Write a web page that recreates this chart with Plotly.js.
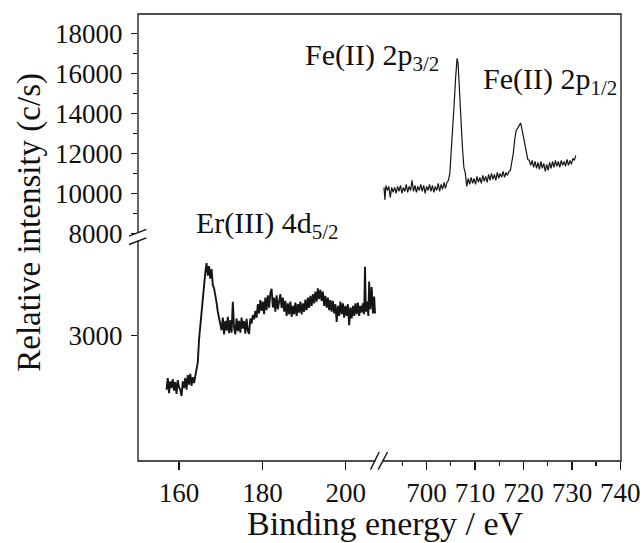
<!DOCTYPE html>
<html><head><meta charset="utf-8">
<script src="https://cdn.plot.ly/plotly-3.0.1.min.js"></script>
<style>html,body{margin:0;padding:0;background:#fff}#chart{width:643px;height:543px}</style>
</head><body><div id="chart"></div>
<script>
// Er(III) 4d region (binding energy eV, intensity c/s)
const erEnergy = [157.0,157.3,157.6,157.9,158.2,158.5,158.8,159.1,159.4,159.7,160.0,160.3,160.6,160.9,161.2,161.5,161.8,162.1,162.4,162.7,163.0,163.3,163.6,163.9,164.2,164.5,164.8,165.1,165.4,165.7,166.0,166.3,166.6,166.9,167.2,167.5,167.8,168.1,168.4,168.7,169.0,169.3,169.6,169.9,170.2,170.5,170.8,171.1,171.4,171.7,172.0,172.3,172.6,172.9,173.2,173.5,173.8,174.1,174.4,174.7,175.0,175.3,175.6,175.9,176.2,176.5,176.8,177.1,177.4,177.7,178.0,178.3,178.6,178.9,179.2,179.5,179.8,180.1,180.4,180.7,181.0,181.3,181.6,181.9,182.2,182.5,182.8,183.1,183.4,183.7,184.0,184.3,184.6,184.9,185.2,185.5,185.8,186.1,186.4,186.7,187.0,187.3,187.6,187.9,188.2,188.5,188.8,189.1,189.4,189.7,190.0,190.3,190.6,190.9,191.2,191.5,191.8,192.1,192.4,192.7,193.0,193.3,193.6,193.9,194.2,194.5,194.8,195.1,195.4,195.7,196.0,196.3,196.6,196.9,197.2,197.5,197.8,198.1,198.4,198.7,199.0,199.3,199.6,199.9,200.2,200.5,200.8,201.1,201.4,201.7,202.0,202.3,202.6,202.9,203.2,203.5,203.8,204.1,204.4,204.6,204.8,205.1,205.4,205.6,205.9,206.2,206.5,206.8,207.0];
const erIntensity = [1700,1980,1620,1900,1740,1950,1680,1880,1600,1930,1760,1700,1550,1900,1740,1980,1700,2050,1820,2080,1790,2000,1860,2020,2150,2350,2900,3250,3600,4000,4350,4500,4720,4420,4650,4350,4580,4200,4120,3880,3780,3560,3420,3260,3120,3420,3020,3340,3110,3440,3050,3360,3060,3800,3180,3020,3400,3100,3340,3060,3420,3160,3340,3040,3390,3110,3030,3400,3280,3480,3380,3580,3420,3740,3520,3840,3580,3800,3500,3900,3600,3950,3660,4000,4110,3660,3900,3560,3950,3620,3850,3980,3650,3900,3560,3820,3460,3760,3500,3800,3440,3700,3500,3780,3460,3740,3540,3800,3500,3760,3560,3850,3600,3900,3650,3940,3700,3980,3760,4040,3800,4120,3860,4080,3820,4040,3700,3940,3660,3900,3600,3840,3560,3820,3520,3740,3320,3700,3460,3800,3500,3760,3420,3700,3460,3740,3240,3660,3400,3700,3460,3760,3500,3780,3460,3700,3540,3760,3500,4630,3560,3800,3460,4280,3620,4150,3520,3920,3520];

// Fe(II) 2p region
const feEnergy = [691.2,691.4,691.6,691.9,692.2,692.5,692.8,693.1,693.4,693.7,694.0,694.3,694.6,694.9,695.2,695.5,695.8,696.1,696.4,696.7,697.0,697.3,697.6,697.9,698.2,698.5,698.8,699.1,699.4,699.7,700.0,700.3,700.6,700.9,701.2,701.5,701.8,702.1,702.4,702.7,703.0,703.3,703.6,703.9,704.2,704.5,704.8,705.1,705.4,705.7,706.0,706.3,706.5,706.8,707.1,707.4,707.7,708.0,708.3,708.6,708.9,709.2,709.5,709.8,710.1,710.4,710.7,711.0,711.3,711.6,711.9,712.2,712.5,712.8,713.1,713.4,713.7,714.0,714.3,714.6,714.9,715.2,715.5,715.8,716.1,716.4,716.7,717.0,717.3,717.6,717.9,718.2,718.5,718.8,719.1,719.4,719.7,720.0,720.3,720.6,720.9,721.2,721.5,721.8,722.1,722.4,722.7,723.0,723.3,723.6,723.9,724.2,724.5,724.8,725.1,725.4,725.7,726.0,726.3,726.6,726.9,727.2,727.5,727.8,728.1,728.4,728.7,729.0,729.3,729.6,729.9,730.2,730.5,730.8];
const feIntensity = [10300,9680,10400,10150,10350,9800,10300,10050,10300,10000,10350,10100,10400,10000,10300,10100,10450,10050,10350,10150,10650,10100,10400,10050,10350,10150,10450,10100,10400,10000,10350,10150,10450,10100,10400,10050,10350,10150,10500,10100,10450,10200,10550,10250,10550,10650,11000,12000,13200,14500,15800,16750,16500,15000,13600,12300,11300,11000,10350,10750,10450,10800,10500,10750,10450,10850,10550,10800,10500,10900,10600,10850,10550,10950,10650,11000,10700,10950,10650,11050,10750,11000,10800,11100,10800,11050,10900,11100,11150,11500,12000,12700,13150,13250,13400,13520,13200,12800,12400,12000,11700,11650,11400,11650,11300,11600,11250,11550,11200,11600,11250,11500,11100,11450,11150,11550,11250,11600,11300,11650,11350,11600,11300,11650,11400,11600,11350,11700,11400,11650,11450,11750,11650,11900];

const xTickLow = [160,180,200];
const xTickHigh = [700,710,720,730,740];
const xMinorHigh = [695,705,715,725,735];
const yTickLow = [3000];
const yTickHigh = [8000,10000,12000,14000,16000,18000];
const yMinorHigh = [9000,11000,13000,15000,17000];

const FONT = 'Liberation Serif, Times New Roman, serif';
const INK = '#151515';

const traces = [
  {x: erEnergy, y: erIntensity, xaxis: 'x', yaxis: 'y', type: 'scatter', mode: 'lines',
   line: {color: INK, width: 1.9}, showlegend: false, hoverinfo: 'skip'},
  {x: feEnergy, y: feIntensity, xaxis: 'x2', yaxis: 'y3', type: 'scatter', mode: 'lines',
   line: {color: INK, width: 1.2}, showlegend: false, hoverinfo: 'skip'}
];

const tickCommon = {
  showgrid: false, zeroline: false, showline: false, ticks: 'outside',
  tickcolor: INK, tickwidth: 1.3, tickfont: {family: FONT, size: 27, color: '#111'},
  tickmode: 'array', fixedrange: true
};

const layout = {
  width: 643, height: 543,
  margin: {l: 138, r: 22, t: 14, b: 82},
  paper_bgcolor: '#fff', plot_bgcolor: '#fff',
  font: {family: FONT, color: '#111'},
  xaxis: Object.assign({}, tickCommon, {domain: [0, 0.4939], range: [150.16, 207.37], anchor: 'y',
    tickvals: xTickLow, ticktext: xTickLow.map(String), ticklen: 8}),
  xaxis2: Object.assign({}, tickCommon, {domain: [0.4939, 1], range: [689.67, 740.14], anchor: 'y',
    tickvals: xTickHigh, ticktext: xTickHigh.map(String), ticklen: 8,
    minor: {tickvals: xMinorHigh, ticks: 'outside', ticklen: 4, tickcolor: INK, tickwidth: 1.3}}),
  yaxis: Object.assign({}, tickCommon, {domain: [0, 0.503], range: [0, 5363], anchor: 'x',
    tickvals: yTickLow, ticktext: yTickLow.map(String), ticklen: 6, ticklabelstandoff: 3}),
  yaxis3: Object.assign({}, tickCommon, {domain: [0.503, 1], range: [7865, 18965], anchor: 'x',
    tickvals: yTickHigh, ticktext: yTickHigh.map(String), ticklen: 6, ticklabelstandoff: 3,
    minor: {tickvals: yMinorHigh, ticks: 'outside', ticklen: 4, tickcolor: INK, tickwidth: 1.3}}),
  shapes: [
    {type: 'rect', xref: 'paper', yref: 'paper', x0: 0, x1: 1, y0: 0, y1: 1, line: {color: INK, width: 1.3}},
    // x-axis break
    {type: 'rect', xref: 'paper', yref: 'paper', x0: 0.4914, x1: 0.5059, y0: -0.006, y1: 0.005, fillcolor: '#fff', line: {width: 0}},
    {type: 'line', xref: 'paper', yref: 'paper', x0: 0.4815, y0: -0.0193, x1: 0.4993, y1: 0.0201, line: {color: INK, width: 1.4}},
    {type: 'line', xref: 'paper', yref: 'paper', x0: 0.4972, y0: -0.0193, x1: 0.5167, y1: 0.0201, line: {color: INK, width: 1.4}},
    // y-axis break
    {type: 'rect', xref: 'paper', yref: 'paper', x0: -0.004, x1: 0.004, y0: 0.4925, y1: 0.5113, fillcolor: '#fff', line: {width: 0}},
    {type: 'line', xref: 'paper', yref: 'paper', x0: -0.0186, y0: 0.5030, x1: 0.0174, y1: 0.5180, line: {color: INK, width: 1.4}},
    {type: 'line', xref: 'paper', yref: 'paper', x0: -0.0186, y0: 0.4844, x1: 0.0174, y1: 0.4992, line: {color: INK, width: 1.4}}
  ],
  annotations: [
    {text: 'Fe(II) 2p<sub>3/2</sub>', xref: 'paper', yref: 'paper', x: 0.3425, y: 0.9037,
     xanchor: 'left', yanchor: 'middle', showarrow: false, font: {family: FONT, size: 30, color: '#111'}},
    {text: 'Fe(II) 2p<sub>1/2</sub>', xref: 'paper', yref: 'paper', x: 0.7105, y: 0.8505,
     xanchor: 'left', yanchor: 'middle', showarrow: false, font: {family: FONT, size: 30, color: '#111'}},
    {text: 'Er(III) 4d<sub>5/2</sub>', xref: 'paper', yref: 'paper', x: 0.1150, y: 0.5277,
     xanchor: 'left', yanchor: 'middle', showarrow: false, font: {family: FONT, size: 30, color: '#111'}},
    {text: 'Binding energy / eV', xref: 'paper', yref: 'paper', x: 0.5111, y: -0.1405,
     xanchor: 'center', yanchor: 'middle', showarrow: false, font: {family: FONT, size: 34, color: '#111'}},
    {text: 'Relative intensity (c/s)', xref: 'paper', yref: 'paper', x: -0.2264, y: 0.5344, textangle: -90,
     xanchor: 'center', yanchor: 'middle', showarrow: false, font: {family: FONT, size: 33, color: '#111'}}
  ]
};

Plotly.newPlot('chart', traces, layout, {staticPlot: true, displayModeBar: false});
</script>
</body></html>
